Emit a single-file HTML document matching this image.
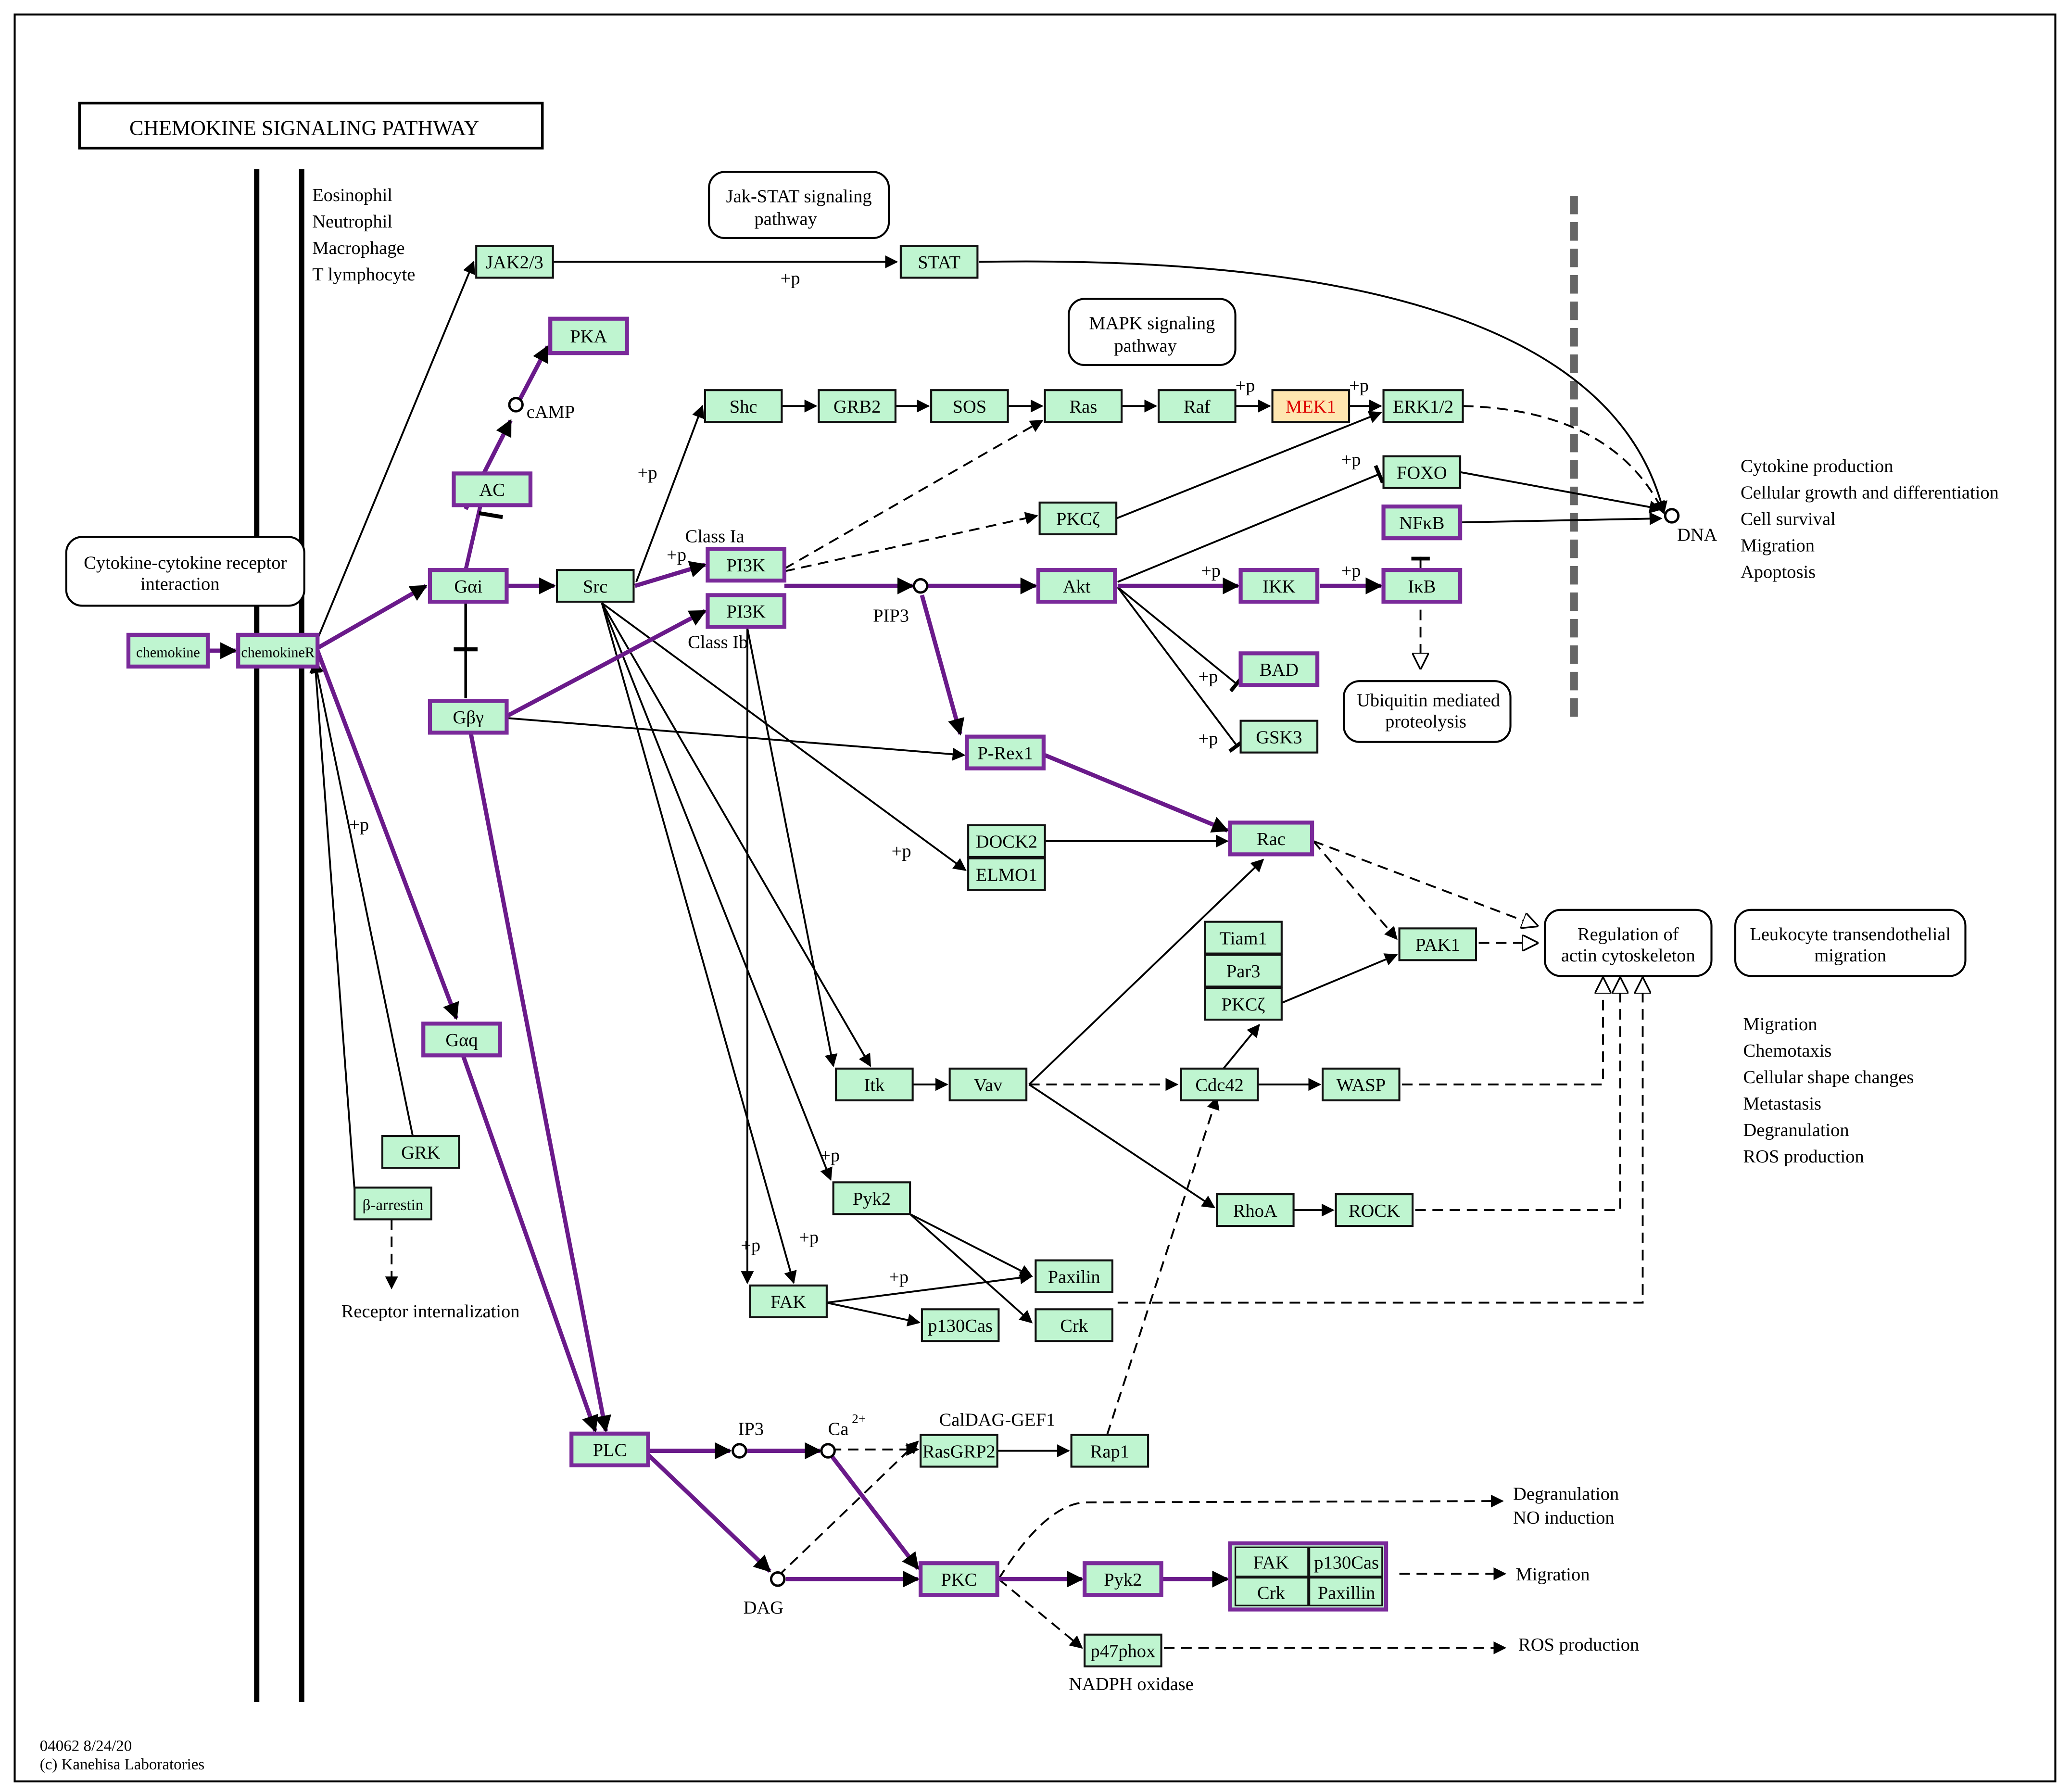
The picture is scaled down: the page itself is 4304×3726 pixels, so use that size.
<!DOCTYPE html>
<html><head><meta charset="utf-8"><style>
html,body{margin:0;padding:0;background:#fff;}
svg{display:block;}
text{font-family:"Liberation Serif",serif;font-size:14px;fill:#000;}
.n rect{fill:#bff5d0;stroke:#111;stroke-width:1.5;}
.p rect{fill:#bff5d0;stroke:#7a2a9a;stroke-width:3;}
.l{stroke:#000;stroke-width:1.4;fill:none;}
.d{stroke:#000;stroke-width:1.4;fill:none;stroke-dasharray:8,5;}
.pl{stroke:#6a1a8a;stroke-width:3.2;fill:none;}
.c{text-anchor:middle;}
</style></head><body>
<svg width="4304" height="3726" viewBox="0 0 1565 1355" xmlns="http://www.w3.org/2000/svg">
<defs>
<marker id="a" viewBox="0 0 10 10" refX="9" refY="5" markerWidth="7" markerHeight="7" orient="auto"><path d="M0,0L10,5L0,10z" fill="#000"/></marker>
<marker id="ap" viewBox="0 0 10 10" refX="9" refY="5" markerWidth="4" markerHeight="4" orient="auto"><path d="M0,0L10,5L0,10z" fill="#000"/></marker>
<marker id="o" viewBox="0 0 10 10" refX="9" refY="5" markerWidth="9" markerHeight="9" orient="auto"><path d="M0,0L10,5L0,10z" fill="#fff" stroke="#000"/></marker>
<marker id="b" viewBox="0 0 4 10" refX="3" refY="5" markerWidth="4" markerHeight="10" orient="auto"><rect x="1" y="0" width="2" height="10" fill="#000"/></marker>
</defs>
<rect x="0" y="0" width="1565" height="1355" fill="#fff"/>
<rect x="11" y="11" width="1543" height="1336" fill="none" stroke="#000" stroke-width="1.5"/>
<rect x="60" y="78" width="350" height="34" fill="#fff" stroke="#000" stroke-width="2"/>
<text x="230" y="102" class="c" style="font-size:16px">CHEMOKINE SIGNALING PATHWAY</text>
<line x1="194" y1="128" x2="194" y2="1287" stroke="#000" stroke-width="4"/>
<line x1="228" y1="128" x2="228" y2="1287" stroke="#000" stroke-width="4"/>
<line x1="1190" y1="148" x2="1190" y2="545" stroke="#666" stroke-width="6" stroke-dasharray="14,6"/>
<text x="236" y="152">Eosinophil</text><text x="236" y="172">Neutrophil</text><text x="236" y="192">Macrophage</text><text x="236" y="212">T lymphocyte</text>
<text x="1316" y="357">Cytokine production</text><text x="1316" y="377">Cellular growth and differentiation</text><text x="1316" y="397">Cell survival</text><text x="1316" y="417">Migration</text><text x="1316" y="437">Apoptosis</text>
<text x="1318" y="779">Migration</text><text x="1318" y="799">Chemotaxis</text><text x="1318" y="819">Cellular shape changes</text><text x="1318" y="839">Metastasis</text><text x="1318" y="859">Degranulation</text><text x="1318" y="879">ROS production</text>
<text x="30" y="1324" style="font-size:12px">04062 8/24/20</text><text x="30" y="1338" style="font-size:12px">(c) Kanehisa Laboratories</text>
<g fill="#fff" stroke="#000" stroke-width="1.5">
<rect x="536" y="130" width="136" height="50" rx="12"/>
<rect x="808" y="226" width="126" height="50" rx="12"/>
<rect x="50" y="406" width="180" height="52" rx="12"/>
<rect x="1016" y="515" width="126" height="46" rx="12"/>
<rect x="1168" y="688" width="126" height="50" rx="12"/>
<rect x="1312" y="688" width="174" height="50" rx="12"/>
</g>
<text x="604" y="153" class="c">Jak-STAT signaling</text><text x="594" y="170" class="c">pathway</text>
<text x="871" y="249" class="c">MAPK signaling</text><text x="866" y="266" class="c">pathway</text>
<text x="140" y="430" class="c">Cytokine-cytokine receptor</text><text x="136" y="446" class="c">interaction</text>
<text x="1080" y="534" class="c">Ubiquitin mediated</text><text x="1078" y="550" class="c">proteolysis</text>
<text x="1231" y="711" class="c">Regulation of</text><text x="1231" y="727" class="c">actin cytoskeleton</text>
<text x="1399" y="711" class="c">Leukocyte transendothelial</text><text x="1399" y="727" class="c">migration</text>
<g class="l" marker-end="url(#a)">
<path d="M238,488L358,198"/>
<path d="M418,198L678,198"/>
<path d="M740,198Q1210,190 1258,388"/>
<path d="M481,440L531,307"/>
<path d="M591,307L617,307"/><path d="M677,307L702,307"/><path d="M762,307L788,307"/><path d="M848,307L874,307"/><path d="M934,307L960,307"/><path d="M1020,307L1044,307"/>
<path d="M844,392L1044,312"/>
<path d="M1104,357L1256,385"/>
<path d="M1104,395L1256,392"/>
<path d="M845,444L936,518" marker-end="url(#b)"/>
<path d="M845,444L936,565" marker-end="url(#b)"/>
<path d="M845,440L1044,358" marker-end="url(#b)"/>
<path d="M384,543L729,571"/>
<path d="M790,636L928,636"/>
<path d="M455,456L730,658"/>
<path d="M455,456L658,806"/>
<path d="M455,456L628,892"/>
<path d="M455,456L600,970"/>
<path d="M565,475L565,970"/>
<path d="M565,475L630,806"/>
<path d="M690,820L716,820"/>
<path d="M778,820L955,650"/>
<path d="M778,820L918,913"/>
<path d="M950,820L998,820"/>
<path d="M925,808L952,775"/>
<path d="M965,760L1056,722"/>
<path d="M978,915L1008,915"/>
<path d="M625,985L780,965"/>
<path d="M625,985L695,1000"/>
<path d="M688,918L780,965"/>
<path d="M688,918L780,1000"/>
<path d="M754,1097L808,1097"/>
<path d="M312,859L238,500"/>
<path d="M268,900L238,500"/>
<path d="M1074,443L1074,421" marker-end="url(#b)"/>
</g>
<g class="d" marker-end="url(#a)">
<path d="M593,430L788,318"/>
<path d="M593,432L784,390"/>
<path d="M1106,307Q1220,310 1258,388"/>
<path d="M778,820L890,820"/>
<path d="M993,636L1056,710"/>
<path d="M837,1085L920,830"/>
<path d="M628,1096L694,1096"/>
<path d="M588,1192L694,1090"/>
<path d="M755,1194Q790,1138 820,1136L1136,1135"/>
<path d="M755,1194L818,1246"/>
<path d="M1058,1190L1138,1190"/>
<path d="M880,1246L1138,1246"/>
<path d="M296,922L296,974"/>
</g>
<g class="d" marker-end="url(#o)">
<path d="M993,636L1162,700"/>
<path d="M1118,713L1162,713"/>
<path d="M1060,820L1212,820L1212,740"/>
<path d="M1070,915L1225,915L1225,740"/>
<path d="M845,985L1242,985L1242,740"/>
<path d="M1074,461L1074,505"/>
</g>
<g class="pl" marker-end="url(#ap)">
<path d="M157,492L178,492"/>
<path d="M240,490L322,443"/>
<path d="M240,492L345,770"/>
<path d="M384,443L419,443"/>
<path d="M480,443L533,427"/>
<path d="M384,541L533,462"/>
<path d="M352,385L386,318"/>
<path d="M393,302L414,262"/>
<path d="M593,443L690,443"/>
<path d="M701,443L783,443"/>
<path d="M697,450L726,555"/>
<path d="M790,571L928,628"/>
<path d="M845,443L936,443"/>
<path d="M998,443L1044,443"/>
<path d="M356,555L458,1082"/>
<path d="M350,798L450,1082"/>
<path d="M490,1097L552,1097"/>
<path d="M565,1097L620,1097"/>
<path d="M490,1100L582,1188"/>
<path d="M594,1194L694,1194"/>
<path d="M628,1100L694,1186"/>
<path d="M755,1194L818,1194"/>
<path d="M878,1194L928,1194"/>
</g>
<line x1="352" y1="456" x2="352" y2="528" stroke="#000" stroke-width="2"/><line x1="343" y1="491" x2="361" y2="491" stroke="#000" stroke-width="3"/>
<line x1="352" y1="431" x2="363" y2="383" stroke="#6a1a8a" stroke-width="3"/><line x1="362" y1="388" x2="380" y2="391" stroke="#000" stroke-width="3"/>
<g fill="#fff" stroke="#000" stroke-width="1.8">
<circle cx="390" cy="306" r="5"/><circle cx="696" cy="443" r="5"/><circle cx="559" cy="1097" r="5"/><circle cx="626" cy="1097" r="5"/><circle cx="588" cy="1194" r="5"/><circle cx="1264" cy="390" r="5"/>
</g>
<text x="398" y="316">cAMP</text><text x="660" y="470">PIP3</text><text x="1268" y="409">DNA</text>
<text x="558" y="1085">IP3</text><text x="626" y="1085">Ca</text><text x="644" y="1076" style="font-size:10px">2+</text><text x="562" y="1220">DAG</text>
<text x="710" y="1078">CalDAG-GEF1</text><text x="808" y="1278">NADPH oxidase</text>
<text x="518" y="410">Class Ia</text><text x="520" y="490">Class Ib</text>
<text x="258" y="996">Receptor internalization</text>
<text x="1144" y="1134">Degranulation</text><text x="1144" y="1152">NO induction</text><text x="1146" y="1195">Migration</text><text x="1148" y="1248">ROS production</text>
<g style="font-size:13px">
<text x="590" y="215">+p</text><text x="482" y="362">+p</text><text x="504" y="424">+p</text><text x="934" y="296">+p</text><text x="1020" y="296">+p</text>
<text x="1014" y="352">+p</text><text x="908" y="436">+p</text><text x="1014" y="436">+p</text><text x="906" y="516">+p</text><text x="906" y="563">+p</text>
<text x="674" y="648">+p</text><text x="264" y="628">+p</text><text x="620" y="878">+p</text><text x="560" y="946">+p</text><text x="604" y="940">+p</text><text x="672" y="970">+p</text>
</g>
<g style="font-size:14px">
<g class="p"><rect x="97" y="480" width="60" height="24"/><text x="127" y="497" class="c" style="font-size:11px">chemokine</text></g>
<g class="p"><rect x="180" y="480" width="60" height="24"/><text x="210" y="497" class="c" style="font-size:11px">chemokineR</text></g>
<g class="n"><rect x="360" y="186" width="58" height="24"/><text x="389" y="203" class="c">JAK2/3</text></g>
<g class="n"><rect x="681" y="186" width="58" height="24"/><text x="710" y="203" class="c">STAT</text></g>
<g class="p"><rect x="416" y="241" width="58" height="26"/><text x="445" y="259" class="c">PKA</text></g>
<g class="p"><rect x="343" y="358" width="58" height="24"/><text x="372" y="375" class="c">AC</text></g>
<g class="p"><rect x="325" y="431" width="58" height="24"/><text x="354" y="448" class="c">Gαi</text></g>
<g class="n"><rect x="421" y="431" width="58" height="24"/><text x="450" y="448" class="c">Src</text></g>
<g class="p"><rect x="325" y="530" width="58" height="24"/><text x="354" y="547" class="c">Gβγ</text></g>
<g class="p"><rect x="535" y="415" width="58" height="24"/><text x="564" y="432" class="c">PI3K</text></g>
<g class="p"><rect x="535" y="450" width="58" height="24"/><text x="564" y="467" class="c">PI3K</text></g>
<g class="n"><rect x="533" y="295" width="58" height="24"/><text x="562" y="312" class="c">Shc</text></g>
<g class="n"><rect x="619" y="295" width="58" height="24"/><text x="648" y="312" class="c">GRB2</text></g>
<g class="n"><rect x="704" y="295" width="58" height="24"/><text x="733" y="312" class="c">SOS</text></g>
<g class="n"><rect x="790" y="295" width="58" height="24"/><text x="819" y="312" class="c">Ras</text></g>
<g class="n"><rect x="876" y="295" width="58" height="24"/><text x="905" y="312" class="c">Raf</text></g>
<g><rect x="962" y="295" width="58" height="24" fill="#ffe6b0" stroke="#111" stroke-width="1.5"/><text x="991" y="312" class="c" style="fill:#d00">MEK1</text></g>
<g class="n"><rect x="1046" y="295" width="60" height="24"/><text x="1076" y="312" class="c">ERK1/2</text></g>
<g class="n"><rect x="786" y="380" width="58" height="24"/><text x="815" y="397" class="c">PKCζ</text></g>
<g class="n"><rect x="1046" y="345" width="58" height="24"/><text x="1075" y="362" class="c">FOXO</text></g>
<g class="p"><rect x="1046" y="383" width="58" height="24"/><text x="1075" y="400" class="c">NFκB</text></g>
<g class="p"><rect x="1046" y="431" width="58" height="24"/><text x="1075" y="448" class="c">IκB</text></g>
<g class="p"><rect x="785" y="431" width="58" height="24"/><text x="814" y="448" class="c">Akt</text></g>
<g class="p"><rect x="938" y="431" width="58" height="24"/><text x="967" y="448" class="c">IKK</text></g>
<g class="p"><rect x="938" y="494" width="58" height="24"/><text x="967" y="511" class="c">BAD</text></g>
<g class="n"><rect x="938" y="545" width="58" height="24"/><text x="967" y="562" class="c">GSK3</text></g>
<g class="p"><rect x="731" y="557" width="58" height="24"/><text x="760" y="574" class="c">P-Rex1</text></g>
<g class="n"><rect x="732" y="624" width="58" height="24"/><text x="761" y="641" class="c">DOCK2</text></g>
<g class="n"><rect x="732" y="649" width="58" height="24"/><text x="761" y="666" class="c">ELMO1</text></g>
<g class="p"><rect x="930" y="622" width="62" height="24"/><text x="961" y="639" class="c">Rac</text></g>
<g class="n"><rect x="911" y="697" width="58" height="24"/><text x="940" y="714" class="c">Tiam1</text></g>
<g class="n"><rect x="911" y="722" width="58" height="24"/><text x="940" y="739" class="c">Par3</text></g>
<g class="n"><rect x="911" y="747" width="58" height="24"/><text x="940" y="764" class="c">PKCζ</text></g>
<g class="n"><rect x="1058" y="702" width="58" height="24"/><text x="1087" y="719" class="c">PAK1</text></g>
<g class="p"><rect x="320" y="774" width="58" height="24"/><text x="349" y="791" class="c">Gαq</text></g>
<g class="n"><rect x="632" y="808" width="58" height="24"/><text x="661" y="825" class="c">Itk</text></g>
<g class="n"><rect x="718" y="808" width="58" height="24"/><text x="747" y="825" class="c">Vav</text></g>
<g class="n"><rect x="893" y="808" width="58" height="24"/><text x="922" y="825" class="c">Cdc42</text></g>
<g class="n"><rect x="1000" y="808" width="58" height="24"/><text x="1029" y="825" class="c">WASP</text></g>
<g class="n"><rect x="289" y="859" width="58" height="24"/><text x="318" y="876" class="c">GRK</text></g>
<g class="n"><rect x="268" y="898" width="58" height="24"/><text x="297" y="915" class="c" style="font-size:12px">β-arrestin</text></g>
<g class="n"><rect x="630" y="894" width="58" height="24"/><text x="659" y="911" class="c">Pyk2</text></g>
<g class="n"><rect x="920" y="903" width="58" height="24"/><text x="949" y="920" class="c">RhoA</text></g>
<g class="n"><rect x="1010" y="903" width="58" height="24"/><text x="1039" y="920" class="c">ROCK</text></g>
<g class="n"><rect x="783" y="953" width="58" height="24"/><text x="812" y="970" class="c">Paxilin</text></g>
<g class="n"><rect x="783" y="990" width="58" height="24"/><text x="812" y="1007" class="c">Crk</text></g>
<g class="n"><rect x="567" y="972" width="58" height="24"/><text x="596" y="989" class="c">FAK</text></g>
<g class="n"><rect x="697" y="990" width="58" height="24"/><text x="726" y="1007" class="c">p130Cas</text></g>
<g class="p"><rect x="432" y="1084" width="58" height="24"/><text x="461" y="1101" class="c">PLC</text></g>
<g class="n"><rect x="696" y="1085" width="58" height="24"/><text x="725" y="1102" class="c">RasGRP2</text></g>
<g class="n"><rect x="810" y="1085" width="58" height="24"/><text x="839" y="1102" class="c">Rap1</text></g>
<g class="p"><rect x="696" y="1182" width="58" height="24"/><text x="725" y="1199" class="c">PKC</text></g>
<g class="p"><rect x="820" y="1182" width="58" height="24"/><text x="849" y="1199" class="c">Pyk2</text></g>
<g class="p"><rect x="930" y="1167" width="118" height="50"/></g>
<g fill="#bff5d0" stroke="#111" stroke-width="1.2"><rect x="934" y="1170" width="55" height="22"/><rect x="990" y="1170" width="55" height="22"/><rect x="934" y="1193" width="55" height="21"/><rect x="990" y="1193" width="55" height="21"/></g>
<text x="961" y="1186" class="c">FAK</text><text x="1018" y="1186" class="c">p130Cas</text><text x="961" y="1209" class="c">Crk</text><text x="1018" y="1209" class="c">Paxillin</text>
<g class="n"><rect x="820" y="1236" width="58" height="24"/><text x="849" y="1253" class="c">p47phox</text></g>
</g>
</svg>
</body></html>
